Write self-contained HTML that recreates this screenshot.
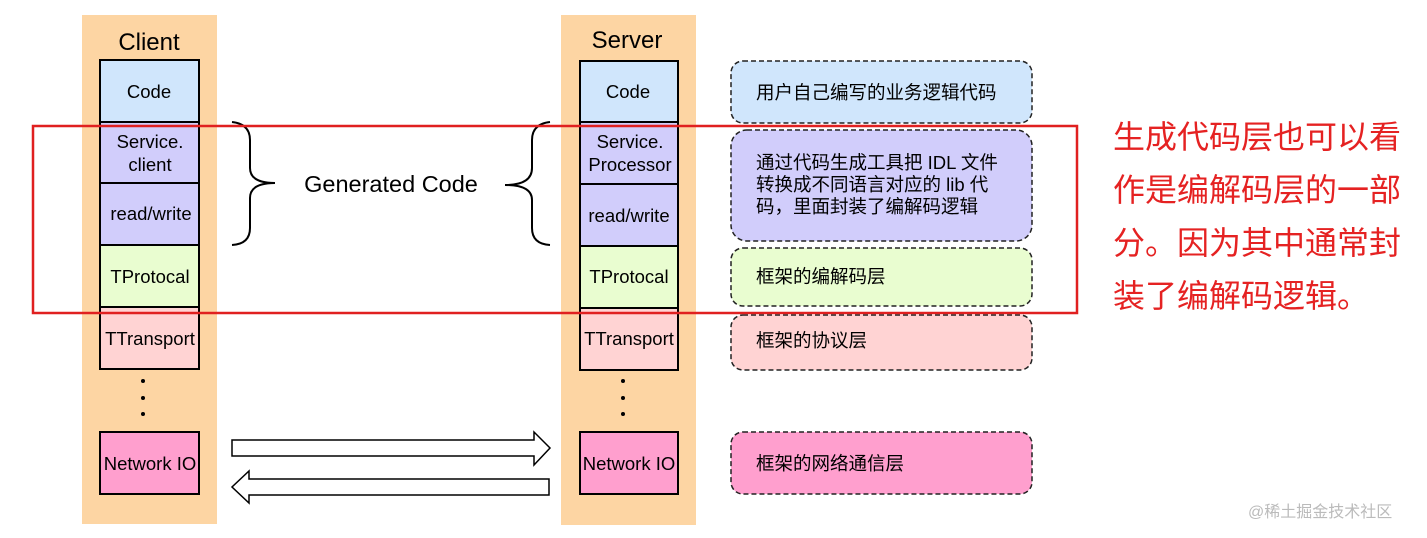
<!DOCTYPE html>
<html><head><meta charset="utf-8"><style>
html,body{margin:0;padding:0;background:#fff;width:1427px;height:538px;overflow:hidden}
svg text{font-family:"Liberation Sans","Noto Sans CJK SC",sans-serif}
</style></head><body>
<svg width="1427" height="538" viewBox="0 0 1427 538" xmlns="http://www.w3.org/2000/svg">
<rect x="82" y="15" width="135" height="509" fill="#fdd5a3"/>
<rect x="561" y="15" width="135" height="510" fill="#fdd5a3"/>
<g font-size="24" text-anchor="middle" fill="#000">
<text x="149" y="50">Client</text>
<text x="627" y="48">Server</text>
</g>
<g stroke="#000" stroke-width="2">
<rect x="100" y="60" width="99" height="62" fill="#d0e6fc"/>
<rect x="100" y="122" width="99" height="61" fill="#d1cdfb"/>
<rect x="100" y="183" width="99" height="62" fill="#d1cdfb"/>
<rect x="100" y="245" width="99" height="62" fill="#e9fdd0"/>
<rect x="100" y="307" width="99" height="62" fill="#ffd3d3"/>
<rect x="100" y="432" width="99" height="62" fill="#ff9fce"/>
<rect x="580" y="61" width="98" height="61" fill="#d0e6fc"/>
<rect x="580" y="122" width="98" height="62" fill="#d1cdfb"/>
<rect x="580" y="184" width="98" height="62" fill="#d1cdfb"/>
<rect x="580" y="246" width="98" height="62" fill="#e9fdd0"/>
<rect x="580" y="308" width="98" height="62" fill="#ffd3d3"/>
<rect x="580" y="432" width="98" height="62" fill="#ff9fce"/>
</g>
<g font-size="18.5" text-anchor="middle" fill="#000">
<text x="149" y="98">Code</text>
<text x="150" y="148">Service.</text><text x="150" y="171">client</text>
<text x="151" y="220">read/write</text>
<text x="150" y="283">TProtocal</text>
<text x="150" y="345">TTransport</text>
<text x="150" y="470">Network IO</text>
<text x="628" y="98">Code</text>
<text x="630" y="148">Service.</text><text x="630" y="171">Processor</text>
<text x="629" y="222">read/write</text>
<text x="629" y="283">TProtocal</text>
<text x="629" y="345">TTransport</text>
<text x="629" y="470">Network IO</text>
</g>
<g fill="#000">
<circle cx="143" cy="381" r="2"/><circle cx="143" cy="398" r="2"/><circle cx="143" cy="414" r="2"/>
<circle cx="623" cy="381" r="2"/><circle cx="623" cy="398" r="2"/><circle cx="623" cy="414" r="2"/>
</g>
<g fill="none" stroke="#000" stroke-width="2">
<path d="M232,122 Q250,124 250,140 L250,168 Q250,183 275,183 Q250,183 250,198 L250,228 Q250,244 232,245"/>
<path d="M550,122 Q532,124 532,140 L532,168 Q532,185 505,185 Q532,185 532,200 L532,228 Q532,244 550,245"/>
</g>
<text x="391" y="192" font-size="23.5" text-anchor="middle">Generated Code</text>
<g fill="#fff" stroke="#000" stroke-width="1.5">
<path d="M232,440 L534,440 L534,432 L550,448 L534,465 L534,456 L232,456 Z"/>
<path d="M549,479 L249,479 L249,471 L232,487 L249,503 L249,495 L549,495 Z"/>
</g>
<g stroke="#222" stroke-width="1.5" stroke-dasharray="5,3">
<rect x="731" y="61" width="301" height="62" rx="12" fill="#d0e6fc"/>
<rect x="731" y="130" width="301" height="111" rx="16" fill="#d1cdfb"/>
<rect x="731" y="248" width="301" height="58" rx="12" fill="#e9fdd0"/>
<rect x="731" y="315" width="301" height="55" rx="12" fill="#ffd3d3"/>
<rect x="731" y="432" width="301" height="62" rx="12" fill="#ff9fce"/>
</g>
<g font-size="18.5" fill="#000">
<text x="756" y="99">用户自己编写的业务逻辑代码</text>
<text x="756" y="169">通过代码生成工具把 IDL 文件</text>
<text x="756" y="191">转换成不同语言对应的 lib 代</text>
<text x="756" y="213">码，里面封装了编解码逻辑</text>
<text x="756" y="283">框架的编解码层</text>
<text x="756" y="347">框架的协议层</text>
<text x="756" y="470">框架的网络通信层</text>
</g>
<rect x="33" y="126" width="1044" height="187" fill="none" stroke="#e02020" stroke-width="2.5"/>
<g font-size="32" fill="#e52222">
<text x="1113" y="148">生成代码层也可以看</text>
<text x="1113" y="201">作是编解码层的一部</text>
<text x="1113" y="254">分。因为其中通常封</text>
<text x="1113" y="307">装了编解码逻辑。</text>
</g>
<text x="1248" y="517" font-size="16" fill="#bbb">@稀土掘金技术社区</text>
</svg>
</body></html>
